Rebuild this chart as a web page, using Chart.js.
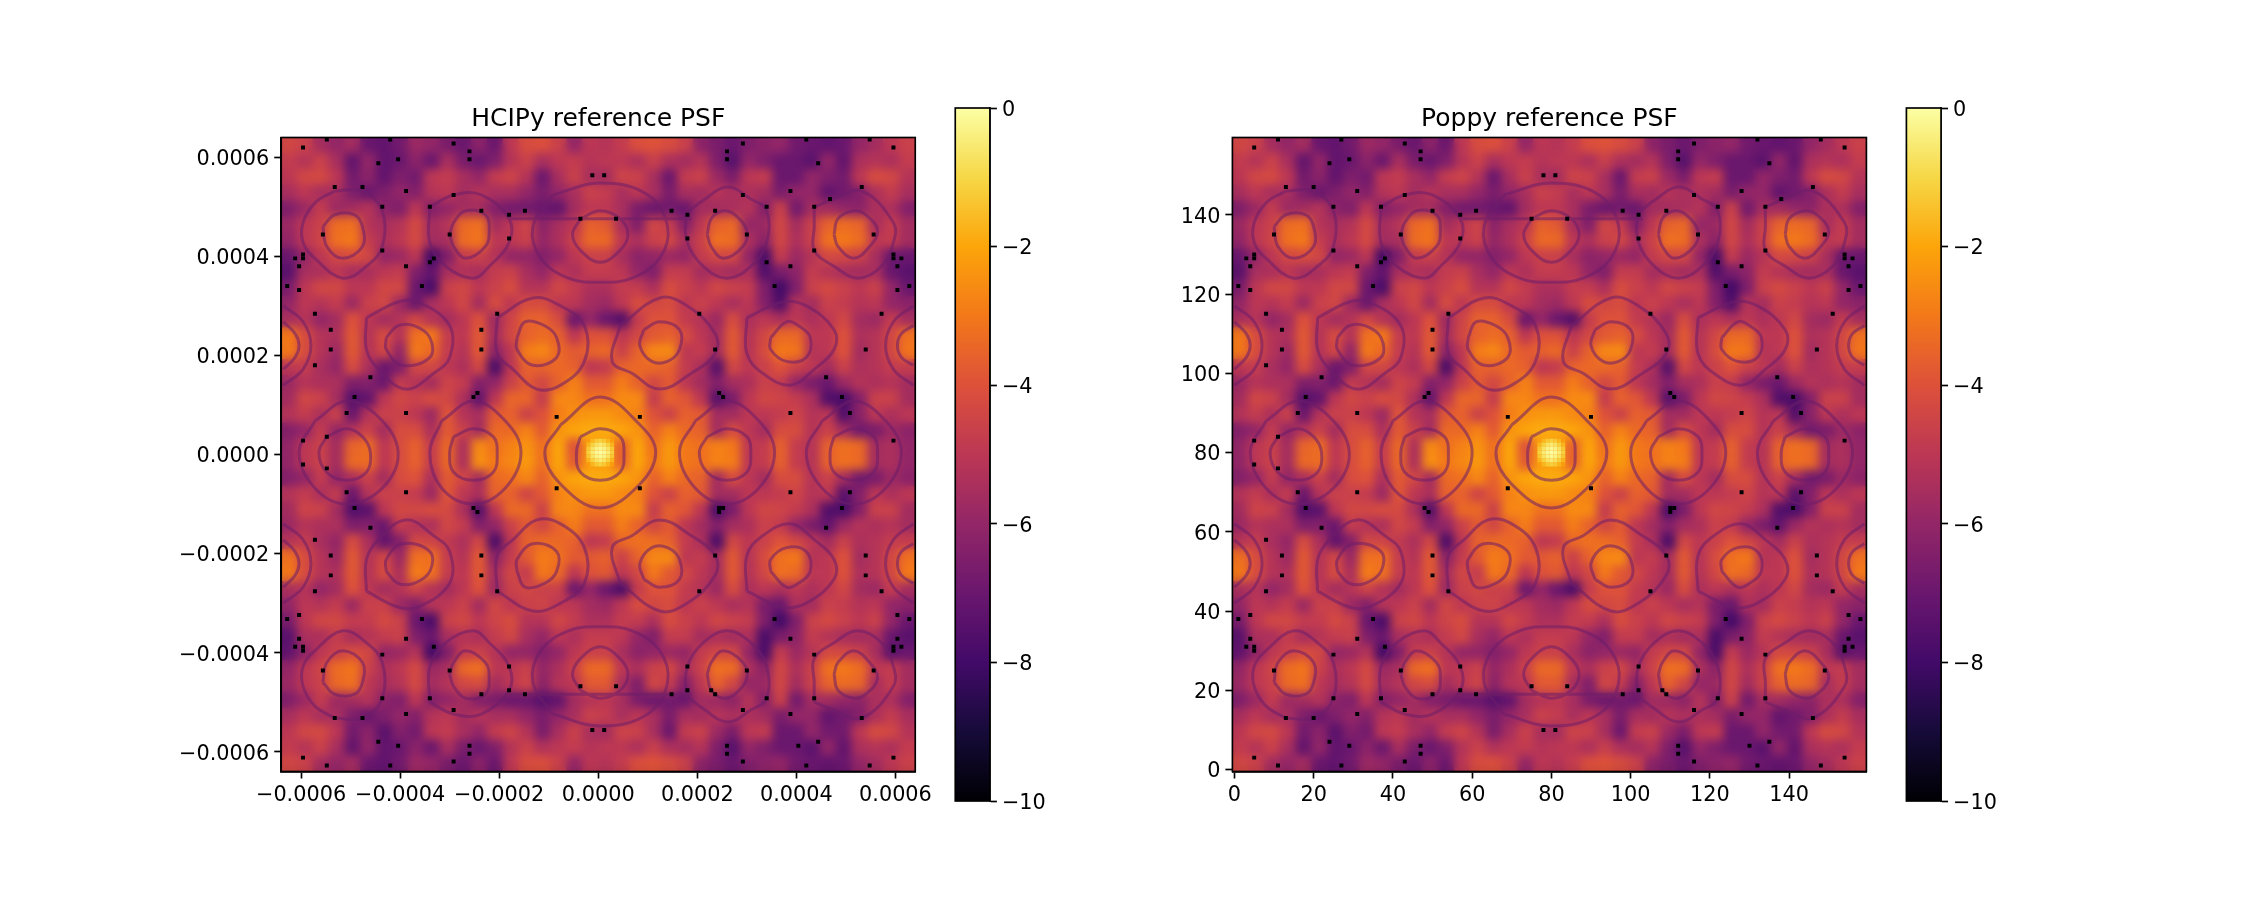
<!DOCTYPE html>
<html>
<head>
<meta charset="utf-8">
<title>PSF comparison</title>
<script src="https://cdn.jsdelivr.net/npm/chart.js@4/dist/chart.umd.min.js"></script>
<style>
  html, body { margin: 0; background: #fff; }
  canvas { position: absolute; top: 0; }
</style>
</head>
<body>
<canvas id="leftPsf"></canvas>
<canvas id="leftBar"></canvas>
<canvas id="rightPsf"></canvas>
<canvas id="rightBar"></canvas>
<script>
// log10 PSF on a 40x40 grid, top row first.
// both panels look the same at this resolution so they share it
const psfRows = [
[-4.4,-4.6,-5.6,-6,-5.6,-7,-7.2,-6.8,-5.8,-6,-6.6,-7,-6.2,-7,-5,-4.2,-4.1,-4.6,-6,-5,-5.2,-4.8,-4.1,-4,-4.2,-4.6,-6.2,-6.6,-7,-6.5,-6.2,-6,-6.8,-7,-7.2,-7,-6,-5.6,-5,-4.6],
[-4.8,-5.2,-4.6,-5.5,-7.2,-6,-7.2,-7,-6.2,-7,-5.5,-6.6,-7,-6.5,-5.2,-4.6,-5.5,-5,-4.8,-5.2,-5,-5,-5.4,-4.7,-5.4,-5.6,-5.2,-6.5,-7.5,-6,-6.5,-7,-7,-7.4,-6,-7.2,-5.4,-5.2,-5.4,-4.8],
[-5,-4.4,-4.3,-5,-6.8,-6.2,-7.2,-6.5,-6.8,-5,-4.8,-5.5,-6,-4.8,-4.5,-5.2,-7,-5.5,-4.6,-5.5,-5.6,-4.5,-4.6,-5.5,-7,-4.8,-4.6,-5.8,-6.6,-5,-4.8,-7,-7,-6,-6.5,-6.8,-5,-4.2,-4.4,-5.2],
[-5.5,-5,-5.5,-5.5,-6.5,-7,-6.5,-6,-6.4,-5.2,-5,-5.6,-5.2,-5.5,-5.5,-6,-6.6,-6,-5.5,-4.6,-4.8,-5.5,-5,-5.5,-6.6,-5.5,-5.6,-5.2,-5.4,-5.4,-5.6,-6.6,-6,-6,-7.2,-6.8,-6.4,-5.4,-4.8,-5.5],
[-6.5,-5.8,-4.8,-5.8,-5.6,-5.2,-6.2,-6.5,-5,-6.4,-6,-5.6,-5.6,-6.4,-6.8,-6.8,-7,-7.2,-5.6,-5,-5,-5.5,-6.6,-7,-6.8,-7,-5.6,-5.6,-5.5,-5.2,-6.4,-4.6,-6.8,-5.6,-5.6,-6,-6.2,-5.4,-5.4,-6.4],
[-5.8,-5,-4.6,-3.3,-3.2,-5.2,-5.5,-5.2,-4.3,-5.6,-5.2,-3.4,-3.2,-5.6,-5,-4.5,-6.2,-5.5,-5,-3.6,-3.8,-5.5,-6.5,-4.4,-4.8,-6.4,-5,-3.6,-3.4,-6,-5.8,-4.4,-5.6,-4.6,-3.6,-3.3,-3.5,-5.5,-4.8,-5.6],
[-6,-5,-4.5,-3.2,-3,-4.8,-5.4,-5,-4.3,-5.6,-5.5,-3.3,-3.1,-5,-5,-4.6,-6,-5.4,-4.6,-3.4,-3.4,-5,-5.4,-4.6,-4.4,-5.5,-4.6,-3.2,-3.3,-5.4,-6.2,-4.4,-5.4,-4.6,-3.2,-3,-3.3,-5,-4.8,-5.6],
[-7,-6,-5,-4.4,-4.2,-4.4,-6,-5.8,-5,-8,-6.5,-4.8,-4.6,-5.2,-6,-6,-6.4,-6,-5,-4.6,-4.6,-5.5,-6.2,-6,-5.8,-6,-4.8,-4.4,-4.4,-6,-7.8,-4.8,-5.8,-5.2,-4.3,-4.4,-4.6,-5.5,-7,-7],
[-7.4,-5.5,-5.4,-5,-5.5,-5.5,-5,-4.8,-6.5,-7.2,-5.5,-5.3,-5.5,-4.8,-4.6,-5.5,-6,-5,-5.4,-4.8,-4.8,-5,-6,-6.5,-4.8,-4.8,-5.6,-5.4,-5.6,-5.4,-7.6,-6.6,-6.2,-4.8,-5.2,-5.5,-5.6,-5.5,-7,-7.4],
[-6.6,-5,-4.4,-4.4,-5,-5,-4.4,-4.4,-7,-7.8,-4.6,-4.4,-5,-4.6,-4.2,-5.2,-5.2,-4.4,-4.8,-5.4,-5.4,-4.8,-4.8,-5.4,-4.2,-4.6,-5,-4.4,-4.6,-4.8,-6.5,-8,-6.5,-4.6,-4.3,-4.6,-5,-4.6,-6,-7],
[-6,-5,-5.2,-4.8,-5.8,-4.6,-4.4,-5.8,-7,-5.5,-5,-4.4,-5.6,-4.2,-5,-4.2,-4.2,-5,-5,-5.6,-5.8,-5,-4.2,-4.4,-4.2,-5,-4.6,-5,-5.5,-5,-6.4,-7.6,-5.2,-5.6,-4.6,-4.8,-5.2,-5,-6,-6.2],
[-5.5,-5.2,-6,-5.6,-4,-5,-5.6,-5.2,-4.4,-5.2,-5.6,-5,-4,-5.8,-4.5,-3.6,-3.6,-4.2,-7,-6,-7,-7.6,-4.8,-4,-4,-4.8,-5.2,-5.8,-4.2,-5.4,-5,-5.4,-5,-5.4,-5,-4.4,-5.6,-5.8,-4.8,-5.6],
[-3,-4.2,-5.2,-5.4,-3.8,-5.2,-4.2,-5.2,-3.2,-3,-4.8,-5,-3.8,-5.6,-4.4,-3.6,-3.3,-3.6,-5,-4,-4,-5,-4.4,-3.8,-3.6,-4.2,-5,-5.6,-3.8,-5.2,-4.4,-3.4,-3.4,-5,-5,-4,-5.4,-5.2,-4.4,-3.2],
[-3,-4.2,-5.2,-5.8,-3.8,-5.2,-4.4,-6,-3,-3.4,-4.8,-5.2,-3.8,-6.2,-5,-2.9,-2.7,-3.4,-3.8,-3.6,-3.4,-4.6,-3.6,-2.7,-2.6,-5,-4.8,-5.6,-3.8,-5.2,-4.2,-3,-3.1,-5.2,-5,-4,-5.6,-5.2,-4.4,-3.1],
[-5,-4.8,-5.5,-6,-4.2,-5.4,-7,-6.5,-4.4,-4.4,-5,-5.4,-4.4,-7.8,-5,-3.6,-3.6,-3.4,-3.6,-5,-4.8,-3.6,-3.4,-3.4,-3.6,-4.8,-5.4,-7.5,-4.4,-5,-4.6,-4,-4.6,-5,-5.6,-4.6,-5.4,-5.2,-4.8,-4.8],
[-5.8,-5.2,-5.4,-5.4,-6.5,-6.4,-7,-4.8,-5.2,-5.6,-4.5,-4.8,-6.4,-6,-4.6,-3.8,-4.4,-3.6,-2.8,-3.8,-3.8,-2.9,-3.6,-4.4,-3.8,-5,-5.6,-6.4,-5.6,-5.4,-4.6,-4.8,-6,-6.6,-7,-5.8,-5.2,-5.4,-5.2,-5.6],
[-5.6,-4.4,-4.6,-5.6,-7.5,-7.2,-5,-4.4,-4.6,-4.2,-4.4,-5.4,-7.2,-5,-3.5,-3.5,-4.8,-2.7,-2.7,-3.2,-3.2,-2.6,-2.6,-4.8,-3.6,-3.9,-5,-7.5,-6.6,-5,-4.4,-4.5,-4.8,-5.4,-7.6,-7.8,-6.4,-4.6,-4.6,-5.6],
[-5.2,-4.8,-5.4,-4.6,-7,-5.2,-4.6,-4.6,-5,-5.8,-3.9,-5.2,-5.5,-3.8,-3.6,-4.6,-4,-2.9,-2.5,-2.3,-2.3,-2.6,-2.8,-4,-4.6,-3.6,-3.8,-5.6,-5.6,-5,-5,-4.8,-4.5,-5.2,-5,-7.6,-6.2,-5,-5.4,-5],
[-6.4,-6,-4.8,-6,-5.2,-4.6,-5.6,-4.2,-4.2,-5.4,-3.8,-4.6,-5.6,-3.4,-3.4,-2.8,-3.8,-2.4,-2,-1.9,-1.9,-2,-2.4,-3.6,-2.8,-3.4,-3.6,-5.6,-4.2,-5,-5.6,-4.2,-4.2,-5.2,-4.6,-5.6,-6.8,-6.6,-5.8,-6.2],
[-6,-5,-4.6,-5.6,-3.5,-3.3,-5,-4.2,-3.6,-4.8,-3.4,-5.4,-2.6,-3.2,-2.8,-2.4,-3.2,-2,-4,-2.2,-2.2,-3.6,-2,-3.2,-2.3,-3,-3.2,-2.8,-3,-5,-4.8,-3.6,-4.8,-5.2,-3.6,-3.2,-3.4,-5.6,-5.4,-6],
[-6,-5,-4.6,-5.6,-3.4,-3.3,-5,-4.2,-3.6,-4.8,-3.4,-5.4,-2.5,-3,-2.7,-2.3,-3.2,-2,-3.8,-2.2,-2.2,-3.6,-2,-3,-2.3,-3,-3.2,-2.8,-2.9,-5,-4.8,-3.6,-4.8,-5.2,-3.6,-3.2,-3.4,-5.6,-5.4,-6],
[-6.4,-6,-4.8,-6,-5.4,-4.6,-5.6,-4.2,-4,-5.4,-3.8,-4.4,-5.6,-3.4,-3.2,-2.7,-3.6,-2.4,-2,-1.9,-1.9,-2,-2.4,-3.6,-2.8,-3.4,-3.6,-5.6,-4.2,-5,-5.6,-4.2,-4.2,-5.2,-4.6,-5.6,-6.8,-6.6,-5.8,-6.2],
[-5.2,-4.8,-5.4,-4.8,-7,-5.2,-4.6,-4.6,-4.8,-5.8,-3.9,-5,-5.4,-3.6,-3.6,-4.5,-3.8,-2.8,-2.5,-2.3,-2.3,-2.6,-2.8,-4,-4.6,-3.6,-3.8,-5.6,-5.6,-5,-5,-4.8,-4.5,-5.2,-5,-7.4,-6.4,-5,-5.4,-5],
[-5.6,-4.5,-4.6,-5.6,-7.6,-7.4,-5,-4.4,-4.4,-4.2,-4.3,-5.4,-7.6,-5,-3.4,-3.4,-4.6,-2.7,-2.7,-3.2,-3.2,-2.6,-2.6,-4.8,-3.6,-3.9,-5,-7.8,-6.6,-5,-4.4,-4.5,-4.8,-5.4,-7.6,-7.8,-6.4,-4.6,-4.6,-5.6],
[-5.8,-5.2,-5.4,-5.4,-6.5,-6.4,-7,-4.8,-5.2,-5.4,-4.4,-4.8,-6.4,-6,-4.6,-3.8,-4.4,-3.6,-2.9,-3.8,-3.8,-2.9,-3.6,-4.4,-3.8,-5,-5.6,-6.4,-5.6,-5.4,-4.6,-4.8,-6,-6.6,-7.2,-5.8,-5.2,-5.4,-5.2,-5.6],
[-5.2,-4.8,-5.5,-6,-4.2,-5.4,-7.2,-6.4,-4.4,-4.5,-4.9,-5.4,-4.4,-7.8,-5,-3.6,-3.4,-3.4,-3.6,-5,-4.8,-3.4,-3.2,-3.3,-3.6,-4.8,-5.4,-7.8,-4.4,-5,-4.6,-4,-4.4,-5,-5.6,-4.6,-5.4,-5.2,-4.8,-4.8],
[-3.2,-4.2,-5.2,-5.8,-3.8,-5.2,-4.4,-5.8,-3.2,-3.2,-4.8,-5.2,-3.8,-6.2,-4.8,-3.8,-2.9,-3.2,-3.8,-3.8,-3.6,-4.6,-3.6,-2.7,-2.6,-5,-4.8,-5.6,-3.8,-5.2,-4.2,-3.2,-3,-5.2,-5,-4,-5.6,-5.2,-4.4,-3.2],
[-3,-4.2,-5.2,-5.4,-3.8,-5.2,-4.2,-5.4,-2.9,-3.2,-4.8,-5,-3.8,-5.6,-4.4,-4.8,-3,-3.4,-5,-4,-3.8,-5,-4.4,-3,-3.8,-4.4,-5,-5.6,-3.8,-5.2,-4.4,-3.2,-3.4,-5,-5,-4,-5.4,-5.2,-4.4,-3],
[-5.5,-5.2,-6,-5.6,-4,-5,-5.6,-5.2,-4.5,-5.2,-5.6,-5,-4,-5.8,-4.6,-4.4,-4.6,-4.6,-7,-6,-7,-7.8,-4.8,-4,-4,-4.8,-5.2,-5.8,-4.2,-5.4,-5,-5.4,-5,-5.4,-5,-4.4,-5.6,-5.8,-4.8,-5.6],
[-6,-5,-5.2,-4.8,-5.8,-4.6,-4.6,-5.8,-6.4,-5.2,-5,-4.6,-5.6,-4.4,-5,-4.6,-4.5,-5,-5,-5.6,-5.8,-5,-4.2,-4.4,-4.2,-5,-4.6,-5,-5.5,-5.2,-6.6,-7,-5.4,-5.6,-4.6,-4.8,-5.2,-5,-6,-6.2],
[-6.6,-5,-4.4,-4.4,-4.8,-4.8,-4.3,-4.6,-7,-7.8,-4.6,-4.4,-5,-4.5,-4.2,-5.2,-5.2,-4.4,-4.8,-5.4,-5.4,-4.8,-4.8,-5.4,-4.2,-4.6,-5,-4.4,-4.6,-4.8,-6.5,-8,-6.5,-4.6,-4.3,-4.6,-5,-4.6,-6,-7],
[-7.4,-5.4,-5.4,-4.8,-5.5,-5.2,-4.8,-4.6,-6.5,-7,-5.5,-5.2,-5.4,-4.8,-4.4,-5.5,-6,-5,-5.4,-4.8,-4.8,-5,-6,-6.5,-4.8,-4.8,-5.6,-5.4,-5.6,-5.4,-7.8,-6.6,-6.2,-4.8,-5.2,-5.5,-5.6,-5.5,-7,-7.4],
[-7.2,-6.2,-5,-4.6,-4.2,-4.4,-6,-5.8,-5.2,-8,-6.5,-4.8,-4.6,-5.2,-6,-6,-6.4,-6,-5,-4.6,-4.6,-5.5,-6.2,-6,-5.8,-6,-4.8,-4.4,-4.4,-6,-7.8,-4.8,-5.8,-5.2,-4.3,-4.4,-4.6,-5.5,-7.4,-7],
[-6,-5,-4.5,-3.3,-3.1,-4.6,-5.4,-5,-4.3,-5.8,-5.5,-3.4,-3.2,-5,-5,-4.6,-6,-5.4,-4.6,-3.4,-3.4,-5,-5.4,-4.6,-4.4,-5.5,-4.6,-3.2,-3.3,-5.4,-6.2,-4.4,-5.4,-4.6,-3.2,-3,-3.3,-5,-4.8,-5.6],
[-5.8,-5,-4.6,-3.4,-3.2,-5,-5.5,-5.2,-4.3,-5.6,-5.2,-4.4,-4.2,-5.6,-5,-4.5,-6.2,-5.2,-5,-3.8,-3.8,-5.5,-6.5,-4.4,-4.8,-6.4,-5,-3.6,-4.4,-6,-5.8,-4.4,-5.6,-4.6,-3.6,-3.3,-3.5,-5.5,-4.8,-5.6],
[-6.5,-5.8,-4.8,-5.8,-5.6,-5.2,-6.2,-6.5,-5,-6.4,-6,-5.6,-6.4,-6.6,-7,-7,-7.5,-7.2,-5.6,-5.2,-5,-5.5,-6.6,-7,-6.8,-7,-5.6,-5.8,-6.2,-5.2,-6.4,-4.6,-6.8,-5.6,-5.6,-6,-6.2,-5.4,-5.4,-6.4],
[-5.5,-5,-5.5,-5.5,-6.5,-7,-6.5,-6,-6.4,-5.2,-5,-5.6,-5.2,-5.5,-5.5,-6,-6.6,-6,-5.5,-4.6,-4.8,-5.5,-5,-5.5,-6.6,-5.5,-5.6,-5.2,-5.4,-5.4,-5.6,-6.6,-6,-6,-7.2,-6.8,-6.4,-5.4,-4.8,-5.5],
[-5,-4.4,-4.3,-5,-6.8,-6.2,-7.4,-6.4,-6.8,-5,-4.8,-5.5,-6,-4.8,-4.5,-5.2,-6.6,-5.5,-4.6,-5.5,-5.6,-4.5,-4.6,-5.5,-7,-4.8,-4.6,-5.8,-6.6,-5,-4.8,-7,-7,-6,-6.8,-6.8,-5,-4.2,-4.4,-5.2],
[-4.8,-5.2,-4.6,-5.5,-7.2,-6,-7.2,-7,-6.2,-7,-5.5,-6.6,-7,-6.5,-5.2,-4.6,-5.3,-5,-4.8,-5.2,-5,-5,-5.4,-4.7,-5.4,-5.6,-5.2,-6.5,-7.5,-6,-6.5,-7,-7,-7.4,-6,-7.2,-5.4,-5.2,-5.4,-4.8],
[-4.4,-4.6,-5.6,-6,-5.6,-7,-7.2,-6.8,-5.8,-6,-6.6,-7,-6.2,-7,-5,-4.2,-4.1,-4.6,-6,-5,-5.2,-4.8,-4.1,-4,-4.2,-4.6,-6.2,-6.6,-7,-6.5,-6.2,-6,-6.8,-7,-7.2,-7,-6,-5.6,-5,-4.6]
];

// the peak itself, at full pixel size (cols 77-83, rows 76-82 from the top)
const peakCols = [77, 78, 79, 80, 81, 82, 83];
const peakRowIdx = [76, 77, 78, 79, 80, 81, 82];
const peakValues = [
[-2.2,-1.7,-1.3,-1.1,-1.3,-1.7,-2.2],
[-1.7,-1.1,-0.7,-0.5,-0.7,-1.1,-1.7],
[-1.3,-0.7,-0.3,-0.15,-0.3,-0.7,-1.3],
[-1.1,-0.5,-0.15,0,-0.15,-0.5,-1.1],
[-1.3,-0.7,-0.3,-0.15,-0.3,-0.7,-1.3],
[-1.7,-1.1,-0.7,-0.5,-0.7,-1.1,-1.7],
[-2.2,-1.7,-1.3,-1.1,-1.3,-1.7,-2.2]
];

// black single pixels (nulls), col and row from the top
const nullCols = [5,11,27,43,47,47,24,29,78,31,13,43,20,25,37,50,57,61,75,10,42,57,25,5,3,5,4,31,38,37,35,1,4,8,54,12,50,12,50,8,22,18,49,48,16,31,69,5,11,
81,116,112,112,148,154,132,135,116,128,146,138,122,134,109,98,102,84,117,149,102,134,128,122,154,154,156,155,124,158,155,105,151,109,147,137,110,111,141,90,128,143,154,
5,11,16,31,69,18,48,49,22,8,54,12,50,12,50,8,1,4,35,4,31,3,5,5,38,25,57,10,42,75,57,61,50,25,37,43,13,20,31,78,24,29,47,47,5,43,11,27,
90,128,143,110,111,110,141,137,105,151,109,147,147,124,158,155,128,155,154,154,156,134,102,117,149,84,102,108,98,109,122,134,128,146,116,81,112,112,135,130,154,148,116,132];
const nullRows = [2,0,0,1,3,5,6,5,9,13,12,14,12,17,17,18,19,18,20,24,24,25,28,29,30,30,32,32,30,31,37,37,38,44,44,48,48,53,53,57,60,65,64,65,69,69,70,76,75,
9,1,3,5,0,2,0,6,14,13,12,15,17,17,18,18,19,20,24,24,25,28,32,31,29,30,30,32,37,37,38,44,44,53,53,60,64,65,65,70,69,69,76,
82,83,89,89,88,93,93,94,98,101,114,105,105,110,110,114,121,120,121,126,126,128,128,129,128,130,133,134,134,138,139,140,140,141,141,144,146,146,145,149,152,153,153,155,156,157,158,158,
88,89,89,93,93,94,93,98,114,114,105,105,110,121,121,120,126,126,128,129,128,130,133,134,134,138,139,139,140,140,141,141,145,146,144,149,153,155,152,153,156,158,157,158];

// dark rings around the bright spots, traced as pixel col / row from the top
const ringCols = [
// top row of spots
[10,11,15,20,20,18,13],[13,20,25,25,21,15,8,5,5,8],
[42,43,46,51,52,51,46,43],[37,43,50,57,57,52,48,41,37],
[75,73,75,80,85,87,85,80],[68,80,92,97,95,88,80,72,65,63],
[107,108,111,116,117,114,111,108],[105,112,118,122,122,118,112,106,102,102],
[139,140,144,148,150,147,144,140],[134,139,146,154,154,151,145,139,134,134],
// second row
[26,26,30,37,37,33,29],[21,29,34,42,42,38,31,24,21],
[59,59,63,69,69,66,61],[54,63,70,76,76,70,64,58,54],
[91,90,93,97,100,100,95],[85,95,102,109,109,103,95,88,83],
[123,123,127,132,133,130,127],[117,126,132,139,139,134,128,121,117],
[0,5,7,5,0],[0,3,4,3,0],[159,154,152,154,159],[159,156,155,156,159],
// middle row
[11,9,11,16,21,22,20,16],[8,16,24,29,25,16,8,4],
[43,42,43,48,53,54,53,48],[40,48,56,60,56,48,40,37],
[75,74,75,80,85,86,85,80],[70,80,90,94,90,80,70,66],
[107,105,107,112,117,118,117,112],[104,112,120,124,120,112,104,100],
[139,138,139,144,149,150,149,144],[136,144,152,156,152,144,136,132],
// fourth row
[26,26,30,37,37,33,29],[21,29,34,42,42,38,31,24,21],
[59,59,63,69,69,66,61],[54,63,70,76,76,70,64,58,54],
[91,90,93,97,100,100,95],[85,95,102,109,109,103,95,88,83],
[123,123,127,132,133,130,127],[117,126,132,139,139,134,128,121,117],
[0,5,7,5,0],[0,3,4,3,0],[159,154,152,154,159],[159,156,155,156,159],
// bottom row of spots
[10,11,15,20,20,18,13],[13,20,25,25,21,15,8,5,5,8],
[42,43,46,51,52,51,46,43],[37,43,50,57,57,52,48,41,37],
[75,73,75,80,85,87,85,80],[68,80,92,97,95,88,80,72,65,63],
[107,108,111,116,117,114,111,108],[105,112,118,122,122,118,112,106,102,102],
[139,140,144,148,150,147,144,140],[134,139,146,154,154,151,145,139,134,134],
// thin horizontal dark lines above and below the centre
[57,103],[57,103]
];
const ringRows = [
[22,27,30,27,22,19,19],[13,13,18,27,32,35,30,26,21,16],
[24,21,18,19,23,27,30,27],[17,14,14,20,26,32,35,32,26],
[20,24,28,31,28,24,20,18],[14,11,14,22,30,35,36,35,30,22],
[24,27,30,27,23,19,18,20],[16,12,15,18,26,32,35,32,26,19],
[24,27,30,27,23,19,18,20],[17,15,13,21,26,32,35,32,28,22],
[50,53,57,55,50,47,47],[45,41,41,47,55,59,63,58,53],
[50,53,57,55,50,47,46],[45,40,42,47,56,62,63,58,54],
[48,52,56,56,53,48,46],[47,40,42,49,54,59,63,59,56],
[50,53,56,55,50,47,46],[45,41,42,48,53,58,62,59,54],
[42,46,52,58,62],[46,49,52,55,58],[42,46,52,58,62],[47,49,52,55,57],
[75,79,84,86,84,79,75,73],[71,66,70,79,88,92,88,79],
[75,79,84,86,84,79,75,73],[71,66,71,79,88,92,88,79],
[75,79,84,86,84,79,75,73],[72,65,72,79,87,93,87,79],
[75,79,84,86,84,79,75,73],[71,66,71,79,88,92,88,79],
[75,79,84,86,84,79,75,73],[71,66,71,79,88,92,88,79],
[109,106,102,104,109,112,112],[114,118,118,112,104,100,96,101,106],
[109,106,102,104,109,112,113],[114,119,117,112,103,97,96,101,105],
[111,107,103,103,106,111,113],[112,119,117,110,105,100,96,100,103],
[109,106,103,104,109,112,113],[114,118,117,111,106,101,97,100,105],
[97,101,107,113,117],[101,104,107,110,113],[97,101,107,113,117],[102,104,107,110,112],
[137,132,129,132,137,140,140],[146,146,141,132,127,124,129,133,138,143],
[135,138,141,140,136,132,129,132],[142,145,145,139,133,127,124,127,133],
[139,135,131,128,131,135,139,141],[145,148,145,137,129,124,123,124,129,137],
[135,132,129,132,136,140,141,139],[143,147,144,141,133,127,124,127,133,140],
[135,132,129,132,136,140,141,139],[142,144,146,138,133,127,124,127,131,137],
[20,20],[140,140]
];

// axis ticks
const leftTicks = [-0.0006, -0.0004, -0.0002, 0, 0.0002, 0.0004, 0.0006];
const rightXTicks = [0, 20, 40, 60, 80, 100, 120, 140];
const rightYTicks = [0, 20, 40, 60, 80, 100, 120, 140];
const barTicks = [-10, -8, -6, -4, -2, 0];

// inferno
const infernoStops = ['#000004','#160b39','#420a68','#6a176e','#932667','#bc3754','#dd513a','#f37819','#fca50a','#f6d746','#fcffa4'];

const fontFamily = '"DejaVu Sans"';
const inkColor = '#000';
const lineW = 1.67;

function hexToRgb(h) {
    return [1, 3, 5].map(i => parseInt(h.substr(i, 2), 16));
}

function psfColor(v) {
    const t = Math.min(Math.max((v + 10) / 10, 0), 1) * (infernoStops.length - 1);
    const i = Math.min(Math.floor(t), infernoStops.length - 2);
    const a = hexToRgb(infernoStops[i]);
    const b = hexToRgb(infernoStops[i + 1]);
    const c = a.map((x, k) => Math.round(x + (b[k] - x) * (t - i)));
    return 'rgb(' + c.join(',') + ')';
}

const minusLabel = (text) => String(text).replace('-', '\u2212');

// matplotlib style box around the axes, and y labels nudged to sit on the tick
const framePlugin = {
    id: 'frame',
    beforeDraw(chart) {
        chart.scales.y.getLabelItems(chart.chartArea).forEach(item => {
            item.options.translation[1] += 2.5;
        });
    },
    afterDraw(chart) {
        const a = chart.chartArea;
        chart.ctx.save();
        chart.ctx.strokeStyle = inkColor;
        chart.ctx.lineWidth = lineW;
        chart.ctx.strokeRect(a.left, a.top, a.width, a.height);
        chart.ctx.restore();
    }
};

// soften the coarse grid once it is on the canvas
const softenPlugin = {
    id: 'soften',
    afterDatasetDraw(chart, args) {
        if (args.index !== 2) return;
        const a = chart.chartArea;
        const ctx = chart.ctx;
        ctx.save();
        ctx.beginPath();
        ctx.rect(a.left, a.top, a.width, a.height);
        ctx.clip();
        ctx.filter = 'blur(5px)';
        ctx.drawImage(chart.canvas, a.left, a.top, a.width, a.height, a.left, a.top, a.width, a.height);
        ctx.restore();
    }
};

function axisStyle(ticks, fixedSize, side, label) {
    return {
        grid: { drawOnChartArea: false, color: inkColor, tickLength: 7, tickWidth: lineW },
        border: { color: inkColor, width: lineW },
        ticks: {
            color: inkColor, padding: 5, autoSkip: false, maxRotation: 0,
            font: { family: fontFamily, size: 20.8 },
            callback: label
        },
        afterBuildTicks(scale) { scale.ticks = ticks.map(value => ({ value })); },
        afterFit(scale) { scale[side] = fixedSize; }
    };
}

function drawPsf(id, left, width, axLeft, yAxisW, titleText, toX, toY, xRange, yRange, xTicks, yTicks, label) {
    const canvas = document.getElementById(id);
    canvas.width = width; canvas.height = 900;
    canvas.style.left = left + 'px';
    const axSize = 634;
    const coarse = [];
    psfRows.forEach((row, r) => row.forEach((v, c) => {
        coarse.push({ x: toX((c + 0.5) * 4 - 0.5), y: toY(159 - ((r + 0.5) * 4 - 0.5)), v });
    }));
    const fine = [];
    peakValues.forEach((row, r) => row.forEach((v, c) => {
        fine.push({ x: toX(peakCols[c]), y: toY(159 - peakRowIdx[r]), v });
    }));
    nullCols.forEach((c, i) => fine.push({ x: toX(c), y: toY(159 - nullRows[i]), v: -10 }));
    const rings = [];
    ringCols.forEach((cols, n) => {
        const pts = cols.map((c, i) => ({ x: toX(c), y: toY(159 - ringRows[n][i]) }));
        if (cols.length > 5) pts.push(pts[0]);
        rings.push(...pts, { x: null, y: null });
    });
    const cellColor = ctx => psfColor(ctx.raw.v);
    new Chart(canvas, {
        type: 'scatter',
        data: {
            datasets: [
                { data: fine, pointStyle: 'rect', radius: (axSize / 160) / Math.SQRT2, borderWidth: 0, backgroundColor: cellColor, clip: 0 },
                { data: rings, showLine: true, pointRadius: 0, tension: 0.4, spanGaps: false, borderWidth: 3, borderColor: 'rgba(110,30,105,0.55)', clip: 0 },
                { data: coarse, pointStyle: 'rect', radius: (axSize / 40 + 0.6) / Math.SQRT2, borderWidth: 0, backgroundColor: cellColor, clip: 0 }
            ]
        },
        options: {
            responsive: false, animation: false, devicePixelRatio: 1, events: [],
            layout: {
                autoPadding: false,
                padding: { left: axLeft - left - yAxisW, right: left + width - axLeft - axSize, top: 104, bottom: 900 - 771.5 - 60 }
            },
            plugins: {
                legend: { display: false }, tooltip: { enabled: false },
                title: {
                    display: true, text: titleText, color: inkColor, fullSize: false,
                    font: { family: fontFamily, size: 25, weight: 'normal' },
                    padding: { top: 0, bottom: 3.5 }
                }
            },
            scales: {
                x: { type: 'linear', min: xRange[0], max: xRange[1], ...axisStyle(xTicks, 60, 'height', label) },
                y: { type: 'linear', min: yRange[0], max: yRange[1], ...axisStyle(yTicks, yAxisW, 'width', label) }
            }
        },
        plugins: [framePlugin, softenPlugin]
    });
}

function drawBar(id, left, width, axLeft) {
    const canvas = document.getElementById(id);
    canvas.width = width; canvas.height = 900;
    canvas.style.left = left + 'px';
    const barW = 34.65, yAxisW = 70;
    const ramp = ctx => {
        const area = ctx.chart.chartArea;
        if (!area) return infernoStops[5];
        const g = ctx.chart.ctx.createLinearGradient(0, area.bottom, 0, area.top);
        infernoStops.forEach((c, i) => g.addColorStop(i / (infernoStops.length - 1), c));
        return g;
    };
    new Chart(canvas, {
        type: 'bar',
        data: { labels: ['log10 PSF'], datasets: [{ data: [[-10, 0]], backgroundColor: ramp, barPercentage: 1, categoryPercentage: 1 }] },
        options: {
            responsive: false, animation: false, devicePixelRatio: 1, events: [],
            layout: {
                autoPadding: false,
                padding: { left: axLeft - left, right: left + width - axLeft - barW - yAxisW, top: 108, bottom: 99 }
            },
            plugins: { legend: { display: false }, tooltip: { enabled: false } },
            scales: {
                x: { display: false },
                y: { type: 'linear', position: 'right', min: -10, max: 0, ...axisStyle(barTicks, yAxisW, 'width', v => minusLabel(v)) }
            }
        },
        plugins: [framePlugin]
    });
}

drawPsf('leftPsf', 0, 940, 281.25, 130, 'HCIPy reference PSF',
    i => -0.00064 + (i + 0.5) * 0.000008, i => -0.00064 + (i + 0.5) * 0.000008,
    [-0.00064, 0.00064], [-0.00064, 0.00064], leftTicks, leftTicks,
    v => minusLabel(Number(v).toFixed(4)));
drawBar('leftBar', 940, 190, 955.25);
drawPsf('rightPsf', 1130, 760, 1232.4, 90, 'Poppy reference PSF',
    i => i, i => i,
    [-0.5, 159.5], [-0.5, 159.5], rightXTicks, rightYTicks,
    v => minusLabel(v));
drawBar('rightBar', 1890, 190, 1906.4);
</script>
</body>
</html>
